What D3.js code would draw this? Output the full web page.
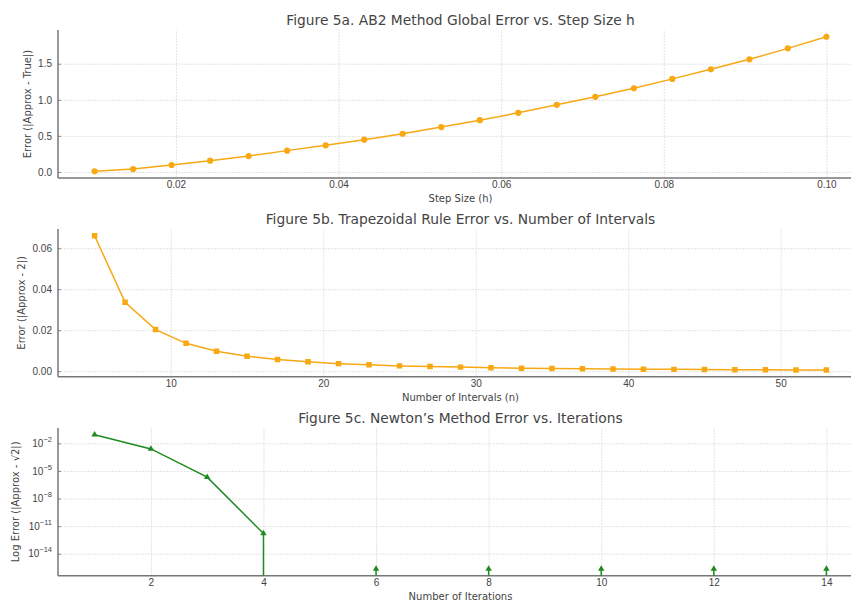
<!DOCTYPE html>
<html>
<head>
<meta charset="utf-8">
<script src="https://cdn.jsdelivr.net/npm/d3@7"></script>
<style>
  body { margin: 0; background: #fff; overflow: hidden; }
  svg { display: block; font-family: "DejaVu Sans", sans-serif; }
  .grid line { stroke: #dcdcdc; stroke-width: 0.8; stroke-dasharray: 2,1; }
  .grid path { display: none; }
  .ax path { display: none; }
  .ax line { stroke: #888; }
  .ax text { fill: #444; font-size: 10px; }
  .title { fill: #444; font-size: 13.8px; text-anchor: middle; }
  .label { fill: #444; font-size: 10px; text-anchor: middle; }
</style>
</head>
<body>
<div id="chart"></div>
<script>
// Figure 5a: AB2 global error vs step size
var stepSizes = [0.01, 0.01474, 0.01947, 0.02421, 0.02895, 0.03368, 0.03842, 0.04316, 0.04789, 0.05263,
                 0.05737, 0.06211, 0.06684, 0.07158, 0.07632, 0.08105, 0.08579, 0.09053, 0.09526, 0.10];
var ab2Error = [0.010, 0.041, 0.097, 0.157, 0.221, 0.296, 0.369, 0.448, 0.530, 0.622,
                0.718, 0.820, 0.931, 1.041, 1.160, 1.290, 1.423, 1.561, 1.713, 1.874];
var ab2Ticks = [0.02, 0.04, 0.06, 0.08, 0.10];
var ab2YTicks = [0, 0.5, 1.0, 1.5];

// Figure 5b: trapezoidal rule error vs number of intervals
var intervals = [5, 7, 9, 11, 13, 15, 17, 19, 21, 23, 25, 27, 29, 31, 33, 35, 37, 39, 41, 43, 45, 47, 49, 51, 53];
var trapError = [0.0661, 0.0336, 0.0203, 0.0136, 0.0097, 0.0073, 0.0057, 0.0046, 0.0037, 0.0031,
                 0.0026, 0.0023, 0.0020, 0.0017, 0.0015, 0.0013, 0.0012, 0.0011, 0.0010, 0.0009,
                 0.0008, 0.0007, 0.0007, 0.0006, 0.0006];
var trapTicks = [10, 20, 30, 40, 50];
var trapYTicks = [0, 0.02, 0.04, 0.06];

// Figure 5c: Newton's method error vs iterations (0 = exact, not plottable on log axis)
var iterations = [1, 2, 3, 4, 5, 6, 7, 8, 9, 10, 11, 12, 13, 14];
var newtonError = [0.0858, 0.00245, 2.1e-6, 1.6e-12, 0, 2.2e-16, 0, 2.2e-16, 0, 2.2e-16, 0, 2.2e-16, 0, 2.2e-16];
var newtonTicks = [2, 4, 6, 8, 10, 12, 14];
var newtonYExp = [-2, -5, -8, -11, -14];

var W = 851, H = 603;
var left = 58, right = 863;   // axes run past the right edge (figure was cropped)

var svg = d3.select("#chart").append("svg")
    .attr("width", W)
    .attr("height", H);

function pad(lo, hi) {
    var m = (hi - lo) * 0.05;
    return [lo - m, hi + m];
}

function panel(opt) {
    var g = svg.append("g");
    var x = d3.scaleLinear().domain(pad(d3.min(opt.xs), d3.max(opt.xs))).range([left, right]);
    var y = opt.y;

    svg.append("clipPath").attr("id", opt.id)
        .append("rect")
        .attr("x", left).attr("y", opt.top)
        .attr("width", right - left).attr("height", opt.bottom - opt.top);

    // grid
    g.append("g").attr("class", "grid")
        .attr("transform", "translate(0," + opt.bottom + ")")
        .call(d3.axisBottom(x).tickValues(opt.xticks).tickSize(-(opt.bottom - opt.top)).tickFormat(""));
    g.append("g").attr("class", "grid")
        .attr("transform", "translate(" + left + ",0)")
        .call(d3.axisLeft(y).tickValues(opt.yticks).tickSize(-(right - left)).tickFormat(""));

    // axes
    g.append("g").attr("class", "ax")
        .attr("transform", "translate(0," + opt.bottom + ")")
        .call(d3.axisBottom(x).tickValues(opt.xticks).tickSize(0).tickPadding(3).tickFormat(opt.xfmt));
    var ya = g.append("g").attr("class", "ax")
        .attr("transform", "translate(" + left + ",0)")
        .call(d3.axisLeft(y).tickValues(opt.yticks).tickSizeInner(-3).tickSizeOuter(0).tickPadding(6).tickFormat(opt.yfmt));
    if (opt.logLabels) {
        ya.selectAll(".tick text").text(null).each(function (d) {
            var t = d3.select(this);
            t.append("tspan").text("10");
            t.append("tspan").attr("dy", -5).attr("font-size", "7.5px").text("\u2212" + Math.abs(Math.round(Math.log10(d))));
        });
    }

    // spines
    g.append("line").attr("x1", left).attr("x2", right).attr("y1", opt.bottom).attr("y2", opt.bottom)
        .attr("stroke", "#777").attr("stroke-width", 1.5);
    g.append("line").attr("x1", left).attr("x2", left).attr("y1", opt.top).attr("y2", opt.bottom)
        .attr("stroke", "#777").attr("stroke-width", 1.5);

    // titles
    var cx = (left + right) / 2;
    g.append("text").attr("class", "title").attr("x", cx).attr("y", opt.top - 5).text(opt.title);
    g.append("text").attr("class", "label").attr("x", cx).attr("y", opt.bottom + 24).text(opt.xlabel);
    g.append("text").attr("class", "label")
        .attr("transform", "translate(" + opt.ylx + "," + ((opt.top + opt.bottom) / 2) + ") rotate(-90)")
        .text(opt.ylabel);

    var pts = opt.xs.map(function (d, i) { return { x: d, y: opt.ys[i] }; });
    var line = d3.line()
        .x(function (d) { return x(d.x); })
        .y(function (d) { return d.y > 0 ? y(d.y) : opt.bottom + 100000; });

    var plot = g.append("g").attr("clip-path", "url(#" + opt.id + ")");
    plot.append("path").datum(pts)
        .attr("fill", "none")
        .attr("stroke", opt.color)
        .attr("stroke-width", 1.5)
        .attr("d", line);

    var sym = d3.symbol().type(opt.symbol).size(opt.symSize);
    plot.selectAll(".mk").data(pts.filter(function (d) { return d.y > 0; }))
        .enter().append("path")
        .attr("transform", function (d) { return "translate(" + x(d.x) + "," + y(d.y) + ")"; })
        .attr("d", sym)
        .attr("fill", opt.color);
}

// panel a
var ya = d3.scaleLinear().domain(pad(d3.min(ab2Error), d3.max(ab2Error))).range([178, 30]);
panel({
    id: "clipA", top: 30, bottom: 178, xs: stepSizes, ys: ab2Error, y: ya,
    xticks: ab2Ticks, yticks: ab2YTicks,
    xfmt: d3.format(".2f"), yfmt: d3.format(".1f"),
    title: "Figure 5a. AB2 Method Global Error vs. Step Size h",
    xlabel: "Step Size (h)", ylabel: "Error (|Approx - True|)", ylx: 31,
    color: "#f7a812", symbol: d3.symbolCircle, symSize: 30
});

// panel b
var yb = d3.scaleLinear().domain(pad(d3.min(trapError), d3.max(trapError))).range([376.7, 229]);
panel({
    id: "clipB", top: 229, bottom: 376.7, xs: intervals, ys: trapError, y: yb,
    xticks: trapTicks, yticks: trapYTicks,
    xfmt: d3.format("d"), yfmt: d3.format(".2f"),
    title: "Figure 5b. Trapezoidal Rule Error vs. Number of Intervals",
    xlabel: "Number of Intervals (n)", ylabel: "Error (|Approx - 2|)", ylx: 25,
    color: "#f7a812", symbol: d3.symbolSquare, symSize: 30
});

// panel c (log)
var pos = newtonError.filter(function (d) { return d > 0; });
var lp = pad(Math.log10(d3.min(pos)), Math.log10(d3.max(pos)));
var yc = d3.scaleLog().domain([Math.pow(10, lp[0]), Math.pow(10, lp[1])]).range([575.7, 428]);
panel({
    id: "clipC", top: 428, bottom: 575.7, xs: iterations, ys: newtonError, y: yc,
    xticks: newtonTicks, yticks: newtonYExp.map(function (e) { return Math.pow(10, e); }),
    xfmt: d3.format("d"), yfmt: null, logLabels: true,
    title: "Figure 5c. Newton\u2019s Method Error vs. Iterations",
    xlabel: "Number of Iterations", ylabel: "Log Error (|Approx - \u221a2|)", ylx: 19,
    color: "#1f8a1f", symbol: d3.symbolTriangle, symSize: 18
});
</script>
</body>
</html>
